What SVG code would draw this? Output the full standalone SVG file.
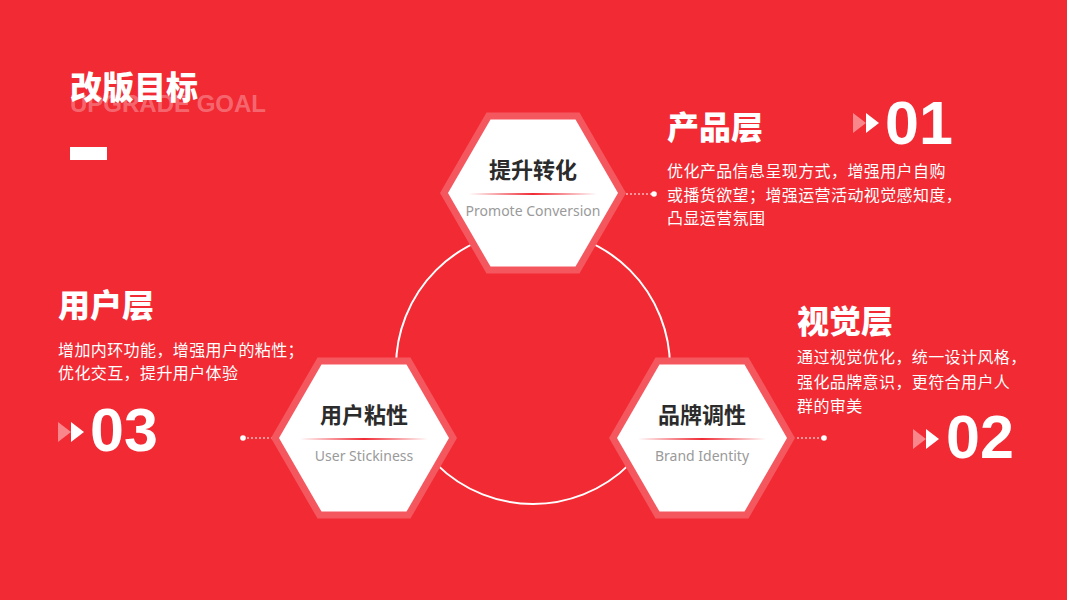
<svg xmlns="http://www.w3.org/2000/svg" width="1067" height="600" viewBox="0 0 1067 600">
<defs>
<linearGradient id="lg" x1="0" y1="0" x2="1" y2="0">
<stop offset="0" stop-color="#f02b35" stop-opacity="0"/>
<stop offset="0.5" stop-color="#f02b35" stop-opacity="1"/>
<stop offset="1" stop-color="#f02b35" stop-opacity="0"/>
</linearGradient>
<polygon id="hexOut" points="-93,0 -46.5,-80.5 46.5,-80.5 93,0 46.5,80.5 -46.5,80.5"/>
<polygon id="hexIn" points="-85,0 -42.5,-73.6 42.5,-73.6 85,0 42.5,73.6 -42.5,73.6"/>
</defs>
<style>
.bg{fill:#f12a34}
.out{fill:#f5575f}
.in{fill:#ffffff}
.h{font-family:"Noto Sans CJK SC",sans-serif;font-weight:900;fill:#fff;font-size:32px}
.body{font-family:"Noto Sans CJK SC",sans-serif;fill:#fff;font-size:16px;letter-spacing:0.4px}
.num{font-family:"Liberation Sans",Arial,sans-serif;font-weight:bold;fill:#fff;font-size:61px}
.ht{font-family:"Noto Sans CJK SC",sans-serif;font-weight:bold;fill:#2b2b2b;font-size:22px;text-anchor:middle}
.en{font-family:"Noto Sans",sans-serif;fill:#9a9a9a;font-size:14px;text-anchor:middle}
.dash{stroke:#fff;stroke-width:1;stroke-dasharray:2 2;fill:none}
.tri1{fill:#f8868b}
.tri2{fill:#fff}
</style>
<rect class="bg" x="0" y="0" width="1067" height="600"/>

<g id="title">
<text x="70" y="112" font-family="Liberation Sans,Arial,sans-serif" font-weight="bold" font-size="24" fill="#ffffff" fill-opacity="0.3">UPGRADE GOAL</text>
<text x="70" y="99" class="h">改版目标</text>
<rect x="70" y="147" width="37" height="13" fill="#fff"/>
</g>

<circle cx="533" cy="367" r="137" fill="none" stroke="#fff" stroke-width="2"/>

<g id="connectors">
<line class="dash" x1="626" y1="194" x2="654" y2="194"/>
<circle cx="654" cy="194" r="2.8" fill="#fff"/>
<line class="dash" x1="243" y1="438" x2="272" y2="438"/>
<circle cx="243" cy="438" r="2.8" fill="#fff"/>
<line class="dash" x1="797" y1="438" x2="824" y2="438"/>
<circle cx="824" cy="438" r="2.8" fill="#fff"/>
</g>

<g id="hex-top" transform="translate(533,193)">
<use href="#hexOut" class="out"/>
<use href="#hexIn" class="in"/>
<text x="0" y="-15" class="ht">提升转化</text>
<rect x="-64" y="0" width="128" height="2" fill="url(#lg)"/>
<text x="0" y="23" class="en">Promote Conversion</text>
</g>

<g id="hex-left" transform="translate(364,438)">
<use href="#hexOut" class="out"/>
<use href="#hexIn" class="in"/>
<text x="0" y="-15" class="ht">用户粘性</text>
<rect x="-64" y="0" width="128" height="2" fill="url(#lg)"/>
<text x="0" y="23" class="en">User Stickiness</text>
</g>

<g id="hex-right" transform="translate(702,438)">
<use href="#hexOut" class="out"/>
<use href="#hexIn" class="in"/>
<text x="0" y="-15" class="ht">品牌调性</text>
<rect x="-64" y="0" width="128" height="2" fill="url(#lg)"/>
<text x="0" y="23" class="en">Brand Identity</text>
</g>

<g id="product-layer">
<text x="667" y="139" class="h">产品层</text>
<polygon class="tri1" points="853,113 866,123 853,133"/>
<polygon class="tri2" points="866,113 879,123 866,133"/>
<text x="885" y="144" class="num">01</text>
<text x="667" y="177" class="body">优化产品信息呈现方式，增强用户自购</text>
<text x="667" y="201" class="body">或播货欲望；增强运营活动视觉感知度，</text>
<text x="667" y="224" class="body">凸显运营氛围</text>
</g>

<g id="user-layer">
<text x="58" y="317" class="h">用户层</text>
<text x="58" y="356" class="body">增加内环功能，增强用户的粘性；</text>
<text x="58" y="379" class="body">优化交互，提升用户体验</text>
<polygon class="tri1" points="58,422 71,432 58,442"/>
<polygon class="tri2" points="71,422 84,432 71,442"/>
<text x="90" y="451" class="num">03</text>
</g>

<g id="visual-layer">
<text x="797" y="333" class="h">视觉层</text>
<text x="797" y="363" class="body">通过视觉优化，统一设计风格，</text>
<text x="797" y="388" class="body">强化品牌意识，更符合用户人</text>
<text x="797" y="412" class="body">群的审美</text>
<polygon class="tri1" points="913,429 926,439 913,449"/>
<polygon class="tri2" points="926,429 939,439 926,449"/>
<text x="946" y="458" class="num">02</text>
</g>
</svg>
